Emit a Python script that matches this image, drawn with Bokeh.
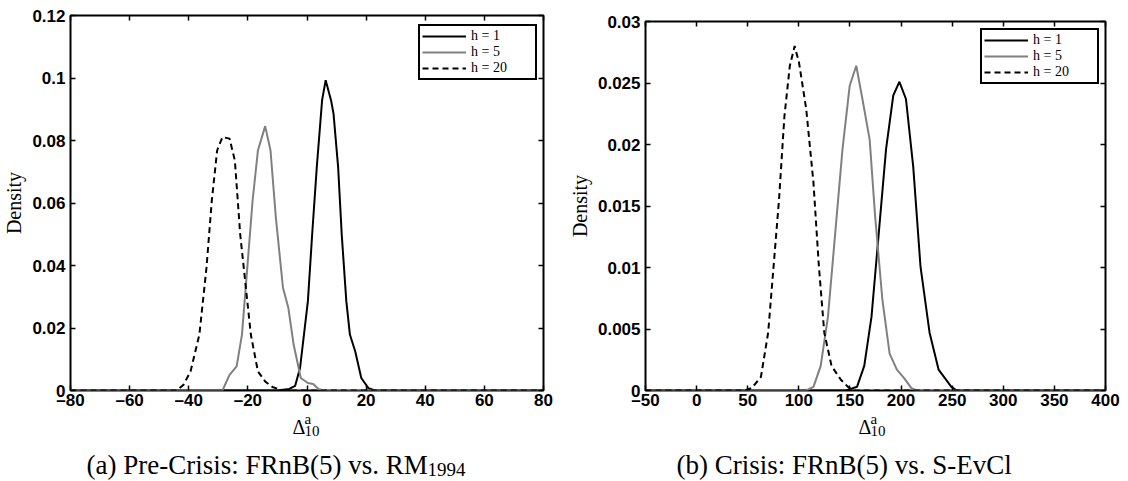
from bokeh.plotting import figure
from bokeh.models import (LinearAxis, FixedTicker, Label, Legend, LegendItem,
                          Range1d, CustomJSTickFormatter)
from bokeh.layouts import row, column
from bokeh.embed import file_html
from bokeh.resources import INLINE

# ---------------- data: panel (a) Pre-Crisis ----------------
a_xticks = [-80, -60, -40, -20, 0, 20, 40, 60, 80]
a_yticks = [0, 0.02, 0.04, 0.06, 0.08, 0.1, 0.12]

a_h1_x = [-80, -10, -6, -4, -2.35, 0.3, 1.75, 3.31, 5.11, 6.32, 8.12, 8.97, 10.53,
          11.74, 13.3, 14.51, 16.32, 18.36, 20.77, 23, 80]
a_h1_y = [0, 0, 0.0005, 0.0015, 0.0072, 0.0286, 0.05, 0.0715, 0.0929, 0.0993, 0.0929,
          0.0886, 0.0715, 0.05, 0.0286, 0.0179, 0.0125, 0.004, 0.00075, 0, 0]

a_h5_x = [-80, -28.6, -26.2, -23.8, -22.0, -20.2, -18.4, -16.6, -14.15, -12.34, -10.54,
          -8.13, -6.32, -4.52, -2.11, 0.3, 2.1, 3.91, 5.72, 80]
a_h5_y = [0, 0, 0.005, 0.0077, 0.0179, 0.0393, 0.0608, 0.0768, 0.0846, 0.0768, 0.0554,
          0.0329, 0.0265, 0.0147, 0.004, 0.0024, 0.0021, 0.0005, 0, 0]

a_h20_x = [-80, -44.2, -41.8, -39.4, -36.4, -34.0, -32.2, -30.4, -28.6, -26.2, -24.4,
           -22.6, -20.8, -19.0, -16.6, -14.15, -11.7, -8.1, 80]
a_h20_y = [0, 0, 0.0018, 0.0061, 0.0179, 0.0393, 0.0608, 0.0768, 0.0811, 0.0806, 0.0736,
           0.05, 0.034, 0.0179, 0.0061, 0.0029, 0.0011, 0, 0]

# ---------------- data: panel (b) Crisis ----------------
b_xticks = [-50, 0, 50, 100, 150, 200, 250, 300, 350, 400]
b_yticks = [0, 0.005, 0.01, 0.015, 0.02, 0.025, 0.03]

b_h1_x = [-50, 146, 150, 156.9, 164, 171.1, 178.2, 185.3, 192.4, 198.4, 204.8, 211.9,
          219, 227.9, 236.7, 243.8, 249.2, 254.5, 400]
b_h1_y = [0, 0, 0.0001, 0.0003, 0.002, 0.006, 0.0128, 0.0196, 0.024, 0.0251, 0.0237,
          0.0182, 0.0101, 0.0047, 0.0017, 0.0009, 0.0003, 0, 0]

b_h5_x = [-50, 107.2, 114.3, 121.4, 128.5, 135.6, 142.7, 149.8, 156.2, 162.2, 169.3,
          174.6, 181.7, 188.8, 195.9, 203, 210.1, 215.4, 400]
b_h5_y = [0, 0, 0.0003, 0.002, 0.006, 0.0128, 0.0196, 0.0248, 0.0264, 0.0237, 0.0204,
          0.0142, 0.0074, 0.003, 0.0017, 0.001, 0.0002, 0, 0]

b_h20_x = [-50, 46.9, 54, 62.9, 70, 75.3, 80.6, 85.9, 91.2, 95.9, 100.1, 107.2, 114.3,
           119.6, 124.9, 132, 140.9, 148, 153.3, 400]
b_h20_y = [0, 0, 0.0002, 0.0011, 0.0047, 0.0101, 0.0155, 0.0223, 0.0264, 0.028, 0.0267,
           0.0229, 0.0169, 0.0101, 0.0047, 0.002, 0.0009, 0.0003, 0, 0]

legend_labels = ["h = 1", "h = 5", "h = 20"]
caption_a = "(a) Pre-Crisis: FRnB(5) vs. RM"
caption_a_sub = "1994"
caption_b = "(b) Crisis: FRnB(5) vs. S-EvCl"

SERIF = "Liberation Serif"
SANS = "Liberation Sans"
GRAY = "#808080"
PANEL_H = 412
TEXT_H = 481 - PANEL_H


def tick_fmt():
    return CustomJSTickFormatter(
        code="return tick < 0 ? '\\u2013' + String(-tick) : String(tick);")


def blank_fmt():
    return CustomJSTickFormatter(code="return '';")


def style_axis(ax):
    ax.axis_line_color = None
    ax.major_tick_in = 5
    ax.major_tick_out = 0
    ax.minor_tick_line_color = None
    ax.major_tick_line_color = "black"
    ax.major_tick_line_width = 1.5


def make_panel(width, borders, xr, yr, xt, yt, series, leg_loc):
    L, R, T, B = borders
    p = figure(width=width, height=PANEL_H, x_range=Range1d(*xr), y_range=Range1d(*yr),
               output_backend="svg", toolbar_location=None,
               min_border_left=L, min_border_right=R, min_border_top=T,
               min_border_bottom=B)
    p.grid.visible = False
    p.outline_line_color = "black"
    p.outline_line_width = 2
    p.outline_line_alpha = 1
    p.background_fill_color = "white"
    p.border_fill_color = "white"

    xa = p.xaxis[0]
    ya = p.yaxis[0]
    xa.ticker = FixedTicker(ticks=xt)
    ya.ticker = FixedTicker(ticks=yt)
    for ax in (xa, ya):
        style_axis(ax)
        ax.formatter = tick_fmt()
        ax.major_label_text_font = SANS
        ax.major_label_text_font_size = "17px"
        ax.major_label_text_font_style = "bold"
        ax.major_label_text_color = "black"
    xa.major_label_standoff = 0
    ya.major_label_standoff = 5
    ya.axis_label = "Density"
    ya.axis_label_text_font = SERIF
    ya.axis_label_text_font_size = "20px"
    ya.axis_label_text_font_style = "normal"
    ya.axis_label_text_color = "black"
    ya.axis_label_standoff = 4

    top = LinearAxis(ticker=FixedTicker(ticks=xt), formatter=blank_fmt(),
                     major_label_standoff=0)
    right = LinearAxis(ticker=FixedTicker(ticks=yt), formatter=blank_fmt(),
                       major_label_standoff=0)
    style_axis(top)
    style_axis(right)
    p.add_layout(top, "above")
    p.add_layout(right, "right")

    (x1, y1), (x5, y5), (x20, y20) = series
    r1 = p.line(x1, y1, line_color="black", line_width=2)
    r5 = p.line(x5, y5, line_color=GRAY, line_width=2)
    r20 = p.line(x20, y20, line_color="black", line_width=2, line_dash="6 4")

    legend = Legend(items=[LegendItem(label=legend_labels[0], renderers=[r1]),
                           LegendItem(label=legend_labels[1], renderers=[r5]),
                           LegendItem(label=legend_labels[2], renderers=[r20])],
                    location=leg_loc)
    legend.label_text_font = SERIF
    legend.label_text_font_size = "14px"
    legend.label_text_color = "black"
    legend.glyph_width = 44
    legend.glyph_height = 16
    legend.label_height = 16
    legend.label_width = 62
    legend.label_standoff = 5
    legend.spacing = 0
    legend.padding = 2
    legend.margin = 0
    legend.border_line_color = "black"
    legend.border_line_width = 2
    legend.border_line_alpha = 1
    legend.background_fill_color = "white"
    legend.background_fill_alpha = 1
    p.add_layout(legend)
    return p


def make_text(width, left, right, items):
    t = figure(width=width, height=TEXT_H, x_range=Range1d(0, 1), y_range=Range1d(0, 1),
               output_backend="svg", toolbar_location=None,
               x_axis_type=None, y_axis_type=None,
               min_border_left=left, min_border_right=right, min_border_top=0,
               min_border_bottom=0)
    t.grid.visible = False
    t.outline_line_color = None
    t.background_fill_color = "white"
    t.border_fill_color = "white"
    for (x, y, text, size) in items:
        t.add_layout(Label(x=x, y=y, x_units="screen", y_units="screen", text=text,
                           text_font=SERIF, text_font_size=size, text_color="black",
                           text_baseline="alphabetic", text_align="left"))
    return t


pa = make_panel(560, (69, 17, 15, PANEL_H - 390), (-80, 80), (0, 0.12), a_xticks, a_yticks,
                [(a_h1_x, a_h1_y), (a_h5_x, a_h5_y), (a_h20_x, a_h20_y)], (348, 310))
pb = make_panel(568, (85, 23, 21, PANEL_H - 392), (-50, 400), (0, 0.03), b_xticks, b_yticks,
                [(b_h1_x, b_h1_y), (b_h5_x, b_h5_y), (b_h20_x, b_h20_y)], (335, 306))

# text rows below the panels (positions relative to the text strip's frame)
ta = make_text(560, 69, 17, [
    (222, 55, "\u0394", "20px"),
    (234, 63, "a", "15px"),
    (234, 51, "10", "15px"),
    (16, 17, caption_a, "27px"),
    (357, 12, caption_a_sub, "19px"),
])
tb = make_text(568, 85, 23, [
    (213, 55, "\u0394", "20px"),
    (225, 63, "a", "15px"),
    (225, 51, "10", "15px"),
    (31, 17, caption_b, "27px"),
])

layout = row(column(pa, ta), column(pb, tb))
open("out.html", "w").write(file_html(layout, INLINE))
